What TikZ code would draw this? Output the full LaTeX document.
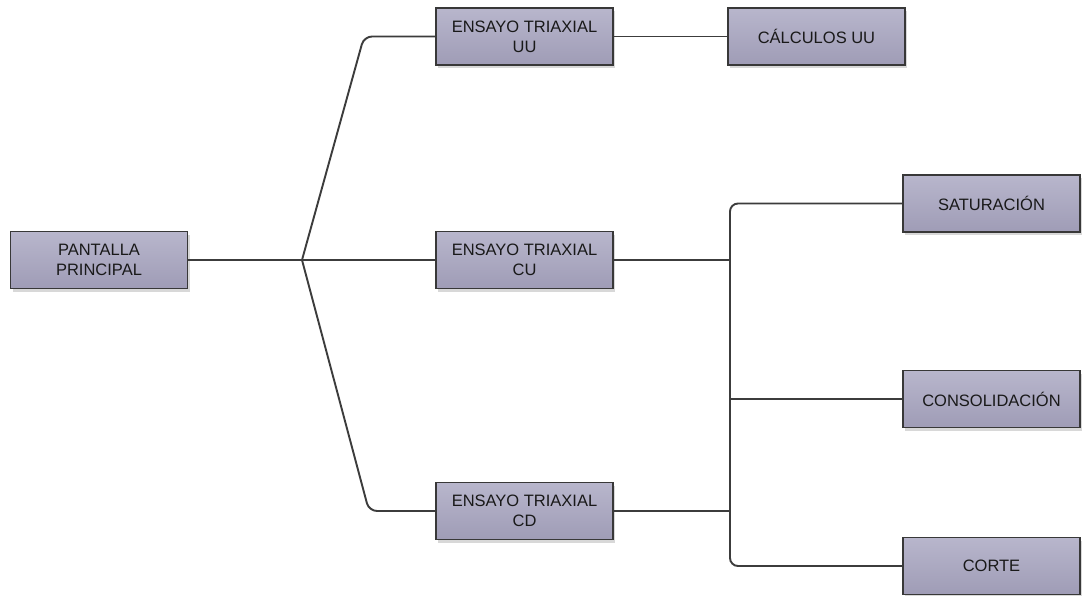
\documentclass[tikz,border=0pt]{standalone}
\usepackage{fontspec}
\setmainfont{Liberation Sans}
\usetikzlibrary{shadows}
\definecolor{boxtop}{HTML}{B8B6CC}
\definecolor{boxbot}{HTML}{9F9CB6}
\definecolor{boxline}{HTML}{383838}
\definecolor{wire}{HTML}{3C3C3C}
\tikzset{
  box/.style={draw=boxline, line width=1.8pt, top color=boxtop, bottom color=boxbot,
    minimum width=177pt, minimum height=57pt, inner sep=0pt, align=center,
    font=\fontsize{16.5}{20}\selectfont, text=black!90,
    drop shadow={shadow xshift=2pt, shadow yshift=-3pt, fill=black!30, opacity=0.5}},
  wire/.style={draw=wire, line width=1.9pt, rounded corners=8pt}
}
\begin{document}
\begin{tikzpicture}[x=1pt,y=-1pt]
\useasboundingbox (0,0) rectangle (1082,595);
\fill[white] (0,0) rectangle (1082,595);
\node[box] (main) at (99,260) {PANTALLA\\PRINCIPAL};
\node[box] (uu) at (524.5,36.5) {ENSAYO TRIAXIAL\\UU};
\node[box] (calc) at (816.5,36.5) {CÁLCULOS UU};
\node[box] (cu) at (524.5,260) {ENSAYO TRIAXIAL\\CU};
\node[box] (cd) at (524.5,511) {ENSAYO TRIAXIAL\\CD};
\node[box] (sat) at (991.5,203.5) {SATURACIÓN};
\node[box] (cons) at (991.5,399) {CONSOLIDACIÓN};
\node[box] (corte) at (991.5,566) {CORTE};
\coordinate (b1) at (302,260);
\coordinate (k1) at (364,0);
\coordinate (k2) at (369,0);
\coordinate (v) at (730,0);
\draw[wire] (main.east) -- (b1) -- (cu.west);
\draw[wire] (b1) -- (k1 |- uu.west) -- (uu.west);
\draw[wire] (b1) -- (k2 |- cd.west) -- (cd.west);
\draw[wire] (uu.east) -- (calc.west);
\draw[wire] (cu.east) -- (v |- cu.east);
\draw[wire] (cd.east) -- (v |- cd.east);
\draw[wire] (sat.west) -- (v |- sat.west) -- (v |- corte.west) -- (corte.west);
\draw[wire] (v |- cons.west) -- (cons.west);
\end{tikzpicture}
\end{document}
